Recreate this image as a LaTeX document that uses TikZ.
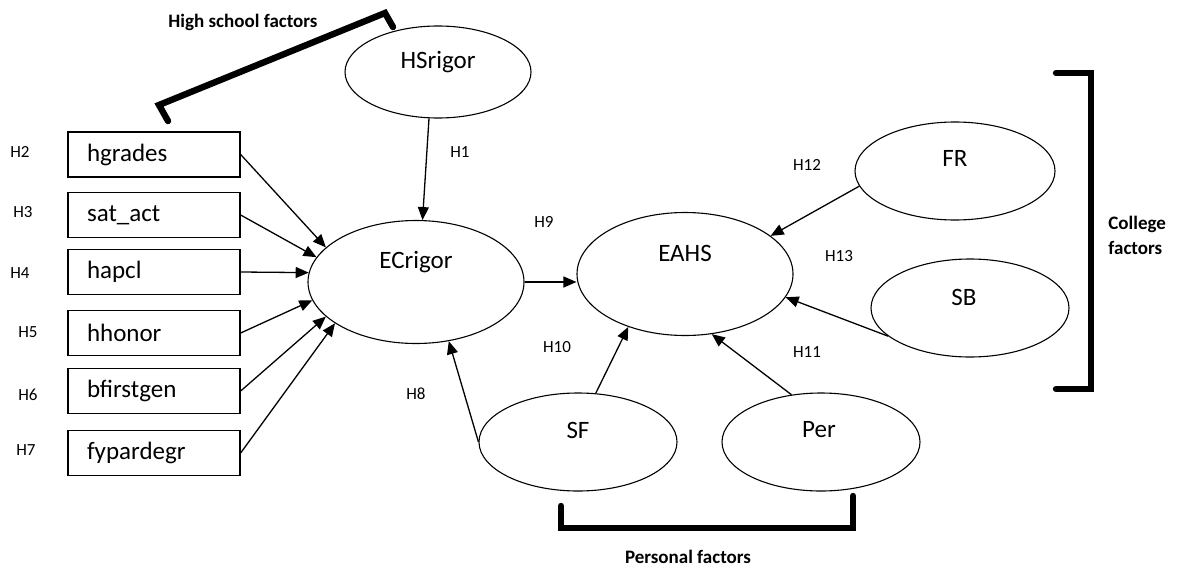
\documentclass[tikz,border=0pt]{standalone}
\usepackage{fontspec}
\setmainfont{Carlito}
\usetikzlibrary{shapes.geometric, arrows.meta}

\begin{document}
\begin{tikzpicture}[x=0.5pt, y=-0.5pt,
    latent/.style={ellipse, draw, line width=0.55pt, minimum width=99pt, minimum height=49pt, inner sep=0pt},
    biglatent/.style={latent, minimum width=108pt, minimum height=61.5pt},
    lbl/.style={font=\fontsize{12.5}{14}\selectfont, inner sep=0pt},
    observed/.style={rectangle, draw, line width=0.65pt, minimum height=22.5pt, text width=67pt, inner xsep=9.5pt, inner ysep=0pt, align=left, font=\fontsize{12.5}{14}\selectfont},
    hyp/.style={font=\fontsize{8.5}{10}\selectfont, inner sep=0pt},
    group/.style={font=\bfseries\fontsize{9.5}{12.5}\selectfont, inner sep=0pt},
    path/.style={-{Triangle[length=6.5pt, width=5.5pt]}, line width=0.65pt},
    bracket/.style={line width=3.2pt, line cap=round}]
    \useasboundingbox (0,0) rectangle (1181,567);

    % Latent constructs
    \node[latent, minimum width=93pt, minimum height=46pt, label={[lbl, yshift=5pt]center:HSrigor}] (HSrigor) at (438,72) {};
    \node[biglatent, label={[lbl, yshift=10pt]center:ECrigor}] (ECrigor) at (416,282) {};
    \node[biglatent, label={[lbl, yshift=10.5pt]center:EAHS}] (EAHS) at (685,274) {};
    \node[latent, minimum width=100pt, label={[lbl, yshift=6.5pt]center:FR}] (FR) at (955,171) {};
    \node[latent, label={[lbl, yshift=5.5pt, xshift=-3pt]center:SB}] (SB) at (970,308) {};
    \node[latent, label={[lbl, yshift=6pt]center:SF}] (SF) at (578,442) {};
    \node[latent, label={[lbl, yshift=6pt, xshift=-1pt]center:Per}] (Per) at (821,442) {};

    % Observed high school variables
    \node[observed] (hgrades) at (154,154.5) {hgrades};
    \node[observed] (satact) at (154,215) {sat\_act};
    \node[observed] (hapcl) at (154,272) {hapcl};
    \node[observed] (hhonor) at (154,333) {hhonor};
    \node[observed] (bfirstgen) at (154,391) {bfirstgen};
    \node[observed] (fypardegr) at (154,453) {fypardegr};

    % Paths (Hypotheses)
    \draw[path] (HSrigor.259) -- (ECrigor.84);
    \draw[path] (hgrades.east) -- (ECrigor.159);
    \draw[path] (satact.east) -- (ECrigor.166);
    \draw[path] (hapcl.east) -- (ECrigor.175);
    \draw[path] (hhonor.east) -- (ECrigor.190);
    \draw[path] (bfirstgen.east) -- (ECrigor.201);
    \draw[path] (fypardegr.east) -- (ECrigor.207);
    \draw[path] (SF.west) -- (ECrigor.299);
    \draw[path] (ECrigor.east) -- (ECrigor.east -| EAHS.west);
    \draw[path] (FR.189) -- (EAHS.24);
    \draw[path] (SB.199) -- (EAHS.347);
    \draw[path] (SF.70) -- (EAHS.223);
    \draw[path] (Per.122) -- (EAHS.294);

    % Hypothesis labels
    \node[hyp] (H1) at (460,152) {H1};
    \node[hyp] (H2) at (20,152) {H2};
    \node[hyp] (H3) at (23,212) {H3};
    \node[hyp] (H4) at (20,273) {H4};
    \node[hyp] (H5) at (28,332) {H5};
    \node[hyp] (H6) at (28,395) {H6};
    \node[hyp] (H7) at (26,450) {H7};
    \node[hyp] (H8) at (416,394) {H8};
    \node[hyp] (H9) at (544,222) {H9};
    \node[hyp] (H10) at (557,347) {H10};
    \node[hyp] (H11) at (807,352) {H11};
    \node[hyp] (H12) at (807,165) {H12};
    \node[hyp] (H13) at (839,256) {H13};

    % Groups (Brackets)
    \draw[bracket] (168,121) -- (159,105) -- (385,13) -- (393,27);
    \node[group] (hsfactors) at (243,22) {High school factors};
    \draw[bracket] (1056,73) -- (1091,73) -- (1091,389) -- (1056,389);
    \node[group, anchor=west, align=left] (colfactors) at (1108,235) {College\\factors};
    \draw[bracket] (561,506) -- (561,528) -- (853,528) -- (853,496);
    \node[group] (perfactors) at (688,557) {Personal factors};
\end{tikzpicture}
\end{document}
